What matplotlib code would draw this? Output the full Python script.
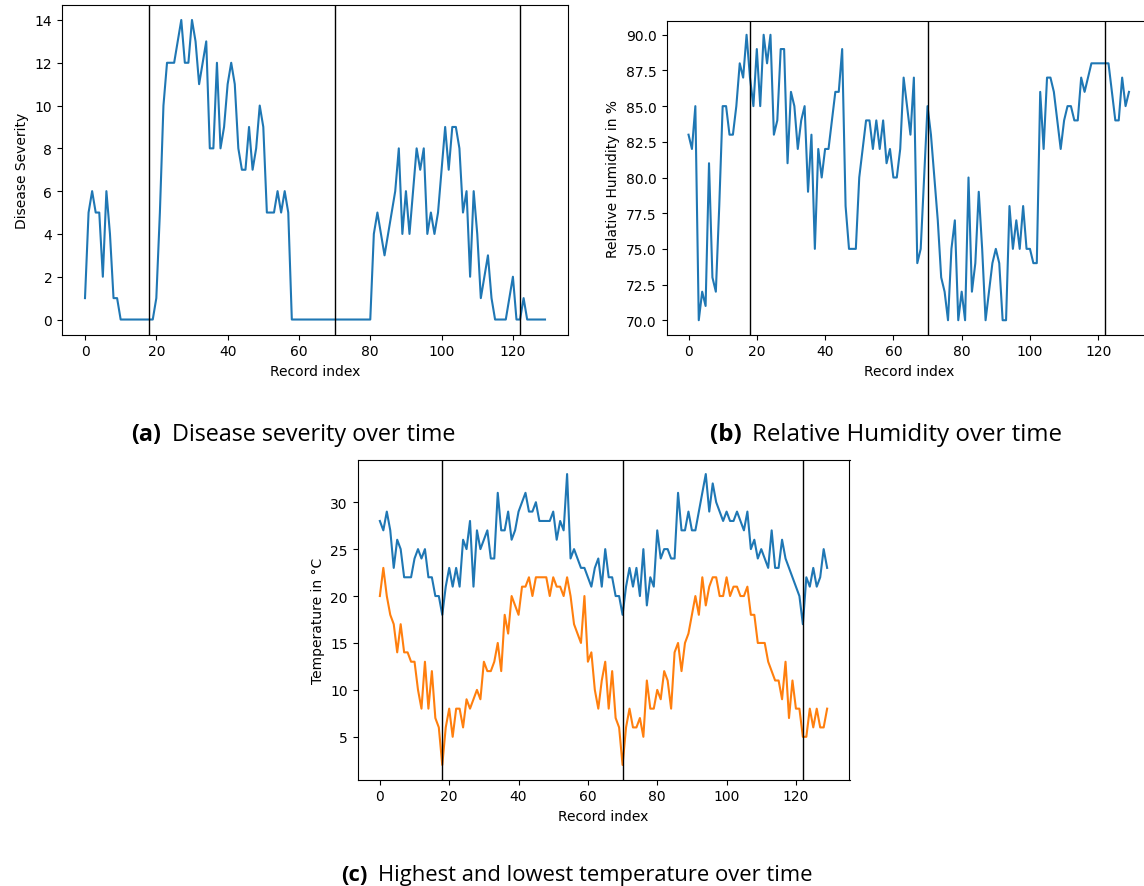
import matplotlib
matplotlib.use("Agg")
import matplotlib.pyplot as plt
import numpy as np

# ---------------- data ----------------
severity = [1, 5, 6, 5, 5, 2, 6, 4, 1, 1,
            0, 0, 0, 0, 0, 0, 0, 0, 0, 0,
            1, 5, 10, 12, 12, 12, 13, 14, 12, 12,
            14, 13, 11, 12, 13, 8, 8, 12, 8, 9,
            11, 12, 11, 8, 7, 7, 9, 7, 8, 10,
            9, 5, 5, 5, 6, 5, 6, 5, 0, 0,
            0, 0, 0, 0, 0, 0, 0, 0, 0, 0,
            0, 0, 0, 0, 0, 0, 0, 0, 0, 0,
            0, 4, 5, 4, 3, 4, 5, 6, 8, 4,
            6, 4, 6, 8, 7, 8, 4, 5, 4, 5,
            7, 9, 7, 9, 9, 8, 5, 6, 2, 6,
            4, 1, 2, 3, 1, 0, 0, 0, 0, 1,
            2, 0, 0, 1, 0, 0, 0, 0, 0, 0]

humidity = [83, 82, 85, 70, 72, 71, 81, 73, 72, 78,
            85, 85, 83, 83, 85, 88, 87, 90, 87, 85,
            89, 85, 90, 88, 90, 83, 84, 89, 89, 81,
            86, 85, 82, 84, 85, 79, 83, 75, 82, 80,
            82, 82, 84, 86, 86, 89, 78, 75, 75, 75,
            80, 82, 84, 84, 82, 84, 82, 84, 81, 82,
            80, 80, 82, 87, 85, 83, 87, 74, 75, 80,
            85, 83, 80, 77, 73, 72, 70, 75, 77, 70,
            72, 70, 80, 72, 74, 79, 75, 70, 72, 74,
            75, 74, 70, 70, 78, 75, 77, 75, 78, 75,
            75, 74, 74, 86, 82, 87, 87, 86, 84, 82,
            84, 85, 85, 84, 84, 87, 86, 87, 88, 88,
            88, 88, 88, 88, 86, 84, 84, 87, 85, 86]

temp_high = [28, 27, 29, 27, 23, 26, 25, 22, 22, 22,
             24, 25, 24, 25, 22, 22, 20, 20, 18, 21,
             23, 21, 23, 21, 26, 25, 28, 21, 27, 25,
             26, 27, 24, 24, 31, 27, 27, 29, 26, 27,
             29, 30, 31, 29, 29, 30, 28, 28, 28, 28,
             29, 26, 28, 27, 33, 24, 25, 24, 23, 23,
             22, 21, 23, 24, 21, 25, 22, 22, 20, 20,
             18, 21, 23, 21, 23, 20, 25, 19, 22, 21,
             27, 24, 25, 25, 24, 24, 31, 27, 27, 29,
             27, 27, 29, 31, 33, 29, 32, 30, 29, 28,
             29, 28, 28, 29, 28, 27, 29, 25, 26, 24,
             25, 24, 23, 27, 23, 23, 26, 24, 23, 22,
             21, 20, 17, 22, 21, 23, 21, 22, 25, 23]

temp_low = [20, 23, 20, 18, 17, 14, 17, 14, 14, 13,
            13, 10, 8, 13, 8, 12, 7, 6, 2, 6,
            8, 5, 8, 8, 6, 9, 8, 9, 10, 9,
            13, 12, 12, 13, 15, 12, 18, 16, 20, 19,
            18, 21, 21, 22, 20, 22, 22, 22, 22, 20,
            22, 21, 21, 20, 22, 20, 17, 16, 15, 20,
            13, 14, 10, 8, 11, 13, 8, 12, 7, 6,
            2, 6, 8, 6, 6, 7, 5, 11, 8, 8,
            10, 9, 12, 11, 8, 14, 15, 12, 15, 16,
            18, 20, 18, 22, 19, 21, 22, 22, 20, 20,
            22, 20, 21, 21, 20, 20, 21, 18, 18, 15,
            15, 15, 13, 12, 11, 11, 9, 13, 7, 11,
            8, 8, 5, 5, 8, 6, 8, 6, 6, 8]

season_breaks = [18, 70, 122]

captions = [("(a)", "Disease severity over time"),
            ("(b)", "Relative Humidity over time"),
            ("(c)", "Highest and lowest temperature over time")]

# ---------------- layout ----------------
W, H = 1144, 887
fig = plt.figure(figsize=(W / 100, H / 100), dpi=100)
plt.rcParams['font.family'] = ['DejaVu Sans']


def px_axes(left, right, top, bottom):
    return fig.add_axes([left / W, (H - bottom) / H, (right - left) / W, (bottom - top) / H])


BLUE = '#1f77b4'
ORANGE = '#ff7f0e'

ax_a = px_axes(62, 568, 6, 335.5)
ax_b = px_axes(666.5, 1151, 21.5, 335.5)
ax_c = px_axes(357.5, 849.5, 460.5, 780.5)

x = np.arange(len(severity))
ax_a.plot(x, severity, color=BLUE, lw=1.5)
ax_a.set_ylabel("Disease Severity")
ax_a.set_xlabel("Record index")

ax_b.plot(np.arange(len(humidity)), humidity, color=BLUE, lw=1.5)
ax_b.set_ylabel("Relative Humidity in %")
ax_b.set_xlabel("Record index")

xt = np.arange(len(temp_high))
ax_c.plot(xt, temp_high, color=BLUE, lw=1.5)
ax_c.plot(xt, temp_low, color=ORANGE, lw=1.5)
ax_c.set_ylabel("Temperature in °C")
ax_c.set_xlabel("Record index")

for ax in (ax_a, ax_b, ax_c):
    for b in season_breaks:
        ax.axvline(b, color='black', lw=1.0)
    ax.tick_params(labelsize=10)

# ---------------- captions ----------------
cap_font = ['Open Sans', 'DejaVu Sans']
# (bold end x, normal start x, normal end x, baseline y) in pixels
cap_pos = [(161, 172, 457, 441), (742, 752, 1062, 441), (368, 378, 812, 881)]
fig.canvas.draw()
renderer = fig.canvas.get_renderer()
for (bold, rest), (xb, xn, xe, yb) in zip(captions, cap_pos):
    t1 = fig.text(xb / W, 1 - yb / H, bold, fontsize=15, fontweight='bold',
                  family=cap_font, va='baseline', ha='right')
    t2 = fig.text(xn / W, 1 - yb / H, rest, fontsize=15,
                  family=cap_font, va='baseline', ha='left')
    w = t2.get_window_extent(renderer).width
    fs = 15 * (xe - xn) / w
    t1.set_fontsize(fs)
    t2.set_fontsize(fs)

fig.savefig("out.png", dpi=100)
